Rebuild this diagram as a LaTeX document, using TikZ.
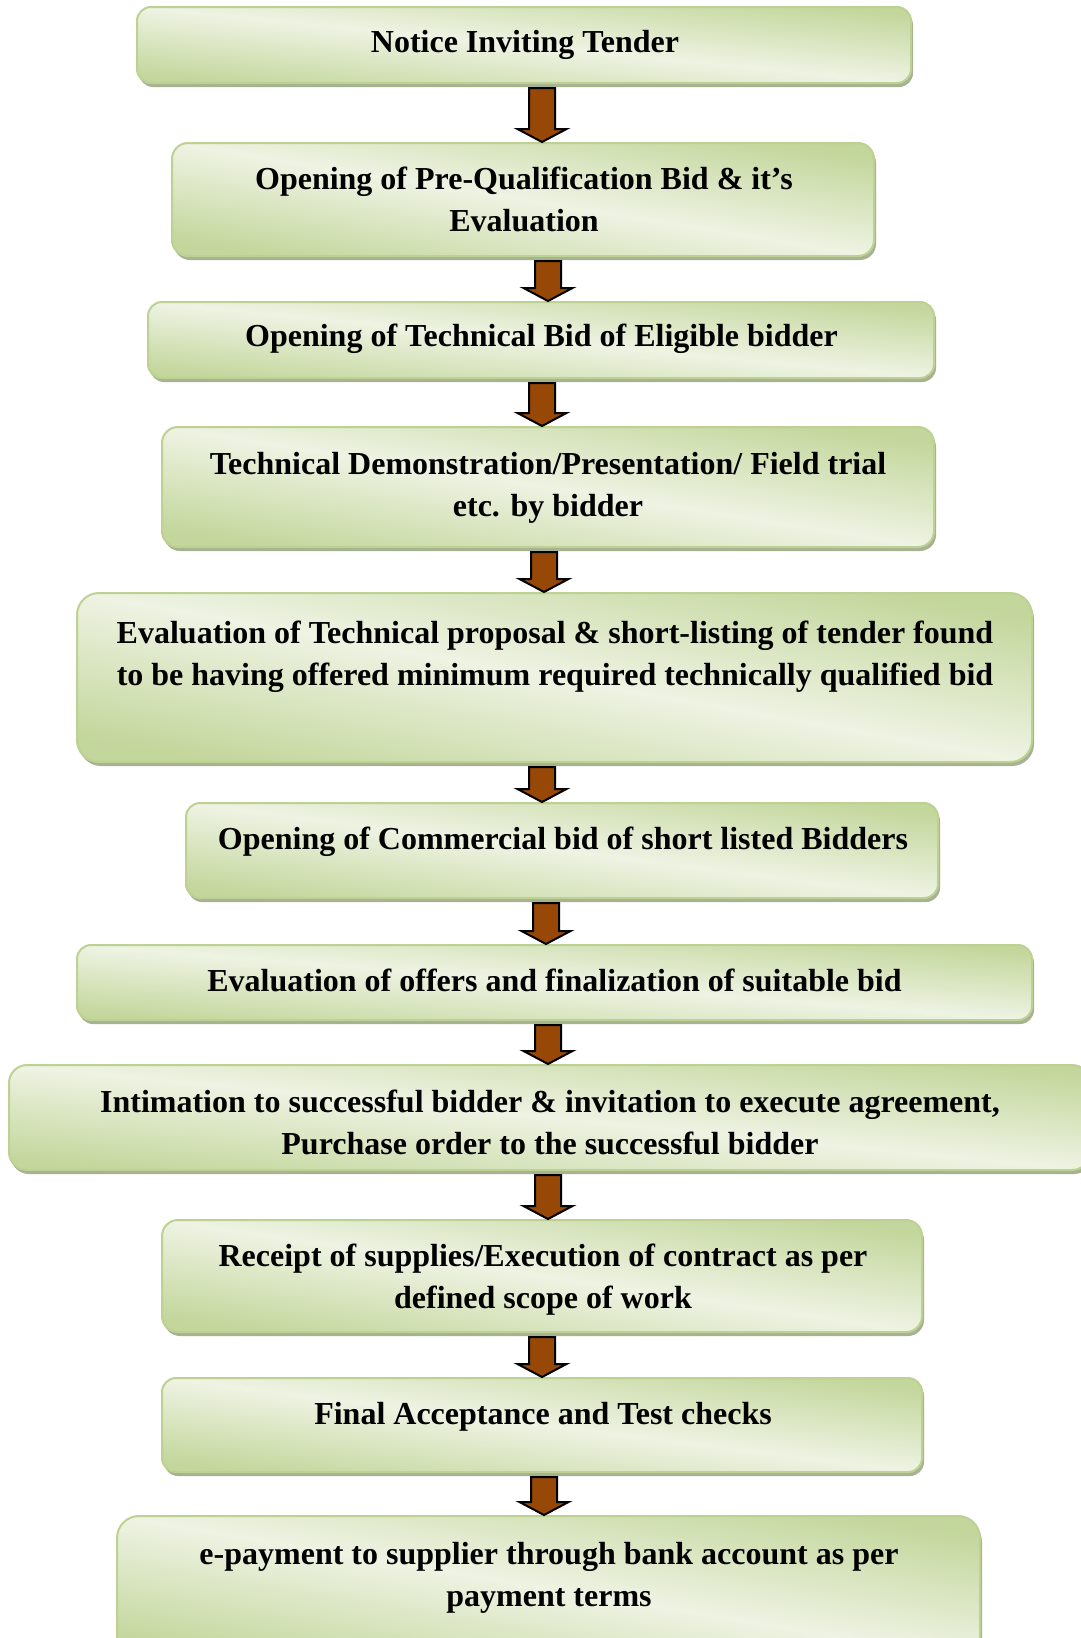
\documentclass[tikz,border=0pt]{standalone}
\usepackage{fontspec}
\setmainfont{Liberation Serif}
\usepackage{xcolor}
\definecolor{boxDark}{HTML}{C3D69B}
\definecolor{boxLight}{HTML}{EEF3E3}
\definecolor{boxEdge}{HTML}{BDD192}
\definecolor{boxShadow}{HTML}{A7B292}
\definecolor{arrowBrown}{HTML}{974806}
\usetikzlibrary{calc,shadows}

\tikzset{
  stepbox/.style={draw=boxEdge, line width=1pt, rounded corners=7pt, inner sep=0pt,
    top color=boxDark, bottom color=boxDark, middle color=boxLight,
    drop shadow={shadow xshift=1pt, shadow yshift=-2pt, fill=boxShadow, opacity=1}},
  boxsize/.style 2 args={minimum width=#1pt, minimum height=#2pt, shading angle={-atan(#2/#1)}},
  steptext/.style={align=center, inner sep=0pt, font=\fontsize{16}{21}\selectfont\bfseries},
  flowshape/.style={fill=arrowBrown, draw=black, line width=1pt, line join=miter}
}
\newcommand{\flowarrow}[3]{%
  \draw[flowshape] let \p1=(#1,0), \p2=(#2.south), \p3=(#3.north) in
    (\x1-6.5pt,\y2-2pt) -- (\x1+6.5pt,\y2-2pt) -- (\x1+6.5pt,\y3+6.5pt)
    -- (\x1+12.25pt,\y3+6.5pt) -- (\x1,\y3) -- (\x1-12.25pt,\y3+6.5pt)
    -- (\x1-6.5pt,\y3+6.5pt) -- cycle;}

\begin{document}
\begin{tikzpicture}[x=0.5pt, y=-0.5pt]
  \useasboundingbox (0,0) rectangle (1081,1638);
  \node[stepbox, boxsize={387}{38}] (b1) at (524,45) {};
  \node[stepbox, boxsize={351}{56.5}, rounded corners=8pt] (b2) at (523,199.5) {};
  \node[stepbox, boxsize={393}{38}] (b3) at (541,340) {};
  \node[stepbox, boxsize={386}{60}, rounded corners=8pt] (b4) at (548,487) {};
  \node[stepbox, boxsize={477.5}{84.5}, rounded corners=11pt] (b5) at (554.5,677.5) {};
  \node[stepbox, boxsize={376}{47.5}] (b6) at (562,850.5) {};
  \node[stepbox, boxsize={477.5}{37.5}] (b7) at (554.5,982.5) {};
  \node[stepbox, boxsize={540.5}{52.5}, rounded corners=9pt] (b8) at (549.5,1117.5) {};
  \node[stepbox, boxsize={380}{56}, rounded corners=8pt] (b9) at (542,1276) {};
  \node[stepbox, boxsize={380}{47}] (b10) at (542,1425) {};
  \node[stepbox, boxsize={431.5}{72}, rounded corners=11pt] (b11) at (548.5,1588) {};

  \node[steptext] (t1) at (525,44.5) {Notice Inviting Tender};
  \node[steptext] (t2) at (524,199.5) {Opening of Pre-Qualification Bid \& it’s\\Evaluation};
  \node[steptext] (t3) at (541.5,338.5) {Opening of Technical Bid of Eligible bidder};
  \node[steptext] (t4) at (548,487.5) {Technical Demonstration/Presentation/ Field trial\\etc. by bidder};
  \node[steptext] (t5) at (555,657) {Evaluation of Technical proposal \& short-listing of tender found\\to be having offered minimum required technically qualified bid};
  \node[steptext] (t6) at (563,842) {Opening of Commercial bid of short listed Bidders};
  \node[steptext] (t7) at (554.5,980) {Evaluation of offers and finalization of suitable bid};
  \node[steptext] (t8) at (550,1122) {Intimation to successful bidder \& invitation to execute agreement,\\Purchase order to the successful bidder};
  \node[steptext] (t9) at (543,1279.5) {Receipt of supplies/Execution of contract as per\\defined scope of work};
  \node[steptext] (t10) at (543,1417) {Final Acceptance and Test checks};
  \node[steptext] (t11) at (549,1578) {e-payment to supplier through bank account as per\\payment terms};

  \flowarrow{542}{b1}{b2}
  \flowarrow{548}{b2}{b3}
  \flowarrow{542}{b3}{b4}
  \flowarrow{544}{b4}{b5}
  \flowarrow{542}{b5}{b6}
  \flowarrow{546}{b6}{b7}
  \flowarrow{548}{b7}{b8}
  \flowarrow{548}{b8}{b9}
  \flowarrow{542}{b9}{b10}
  \flowarrow{544}{b10}{b11}
\end{tikzpicture}
\end{document}
